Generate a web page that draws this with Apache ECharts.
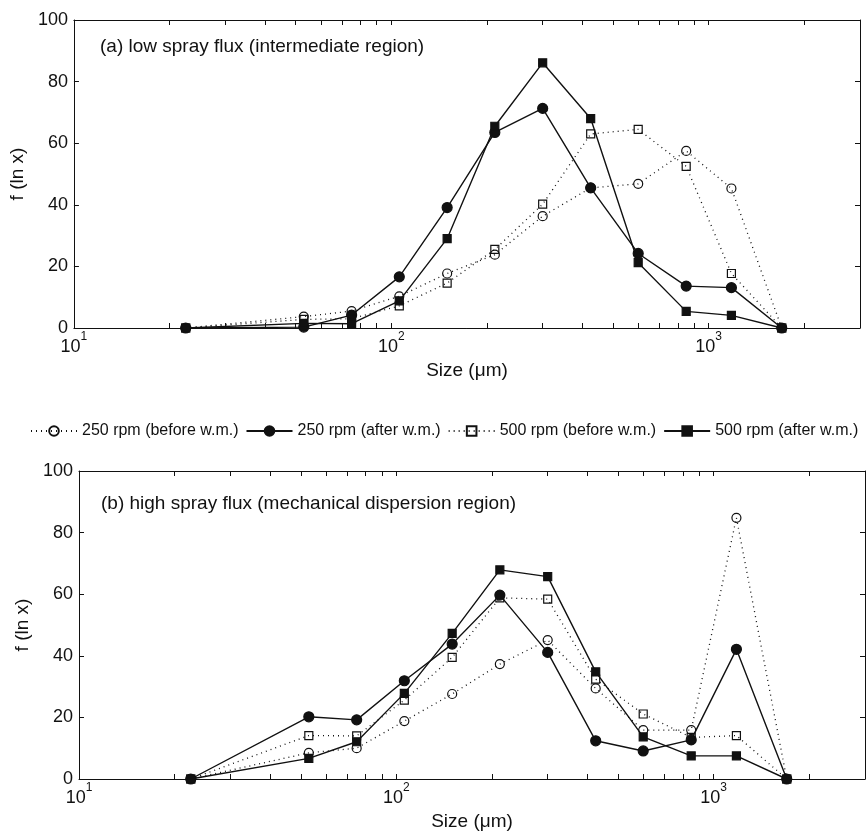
<!DOCTYPE html>
<html><head><meta charset="utf-8">
<script src="https://cdn.jsdelivr.net/npm/echarts@6/dist/echarts.min.js"></script>
<style>html,body{margin:0;padding:0;background:#fff}#c{width:866px;height:832px}</style>
</head><body><div id="c"></div><script>
// ---- data ----
const sizes = [22.5, 53, 75, 106, 150, 212, 300, 425, 600, 850, 1180, 1700];
// panel (a) low spray flux
const a250Before = [0, 3.7, 5.5, 10.3, 17.7, 23.8, 36.3, 45.5, 46.8, 57.5, 45.3, 0];
const a250After  = [0, 0.3, 4.2, 16.6, 39.1, 63.5, 71.3, 45.5, 24.2, 13.6, 13.1, 0];
const a500Before = [0, 2.8, 3.0, 7.2, 14.6, 25.5, 40.2, 63.0, 64.5, 52.5, 17.7, 0];
const a500After  = [0, 1.5, 1.4, 8.8, 29.0, 65.5, 86.1, 68.0, 21.2, 5.4, 4.1, 0];
// panel (b) high spray flux
const b250Before = [0, 8.5, 10.0, 18.8, 27.6, 37.3, 45.1, 29.4, 15.9, 15.9, 84.8, 0];
const b250After  = [0, 20.2, 19.2, 31.9, 43.8, 59.7, 41.1, 12.4, 9.1, 12.7, 42.1, 0];
const b500Before = [0, 14.1, 14.0, 25.6, 39.5, 58.8, 58.4, 32.4, 21.1, 13.5, 14.1, 0];
const b500After  = [0, 6.7, 12.1, 27.8, 47.3, 67.9, 65.7, 34.8, 13.7, 7.5, 7.5, 0];

const seriesNames = ['250 rpm (before w.m.)', '250 rpm (after w.m.)', '500 rpm (before w.m.)', '500 rpm (after w.m.)'];
const panelTitles = ['(a) low spray flux (intermediate region)', '(b) high spray flux (mechanical dispersion region)'];
const xMajorTicks = [10, 100, 1000];
const xMinorTicks = [20, 30, 40, 50, 60, 70, 80, 90, 200, 300, 400, 500, 600, 700, 800, 900, 2000];
const yTicks = [0, 20, 40, 60, 80, 100];
const xMin = 10, xMax = 3000;

// ---- styling ----
const FONT = "'Liberation Sans', Arial, Helvetica, sans-serif";
const INK = '#111';
const styles = [
  {symbol: 'circle', size: 9, fill: 'rgba(0,0,0,0)', type: [1, 4]},
  {symbol: 'circle', size: 10, fill: INK, type: 'solid'},
  {symbol: 'rect', size: 8, fill: 'rgba(0,0,0,0)', type: [1, 4]},
  {symbol: 'rect', size: 8, fill: INK, type: 'solid'}
];
const panels = [
  {data: [a250Before, a250After, a500Before, a500After], grid: {left: 73, right: 6, top: 20, height: 308}},
  {data: [b250Before, b250After, b500Before, b500After], grid: {left: 79, right: 1, top: 471, height: 308}}
];
const allXTicks = xMajorTicks.concat(xMinorTicks);

function supLabel(v) {
  const e = Math.round(Math.log10(v));
  if (Math.abs(Math.log10(v) - e) > 1e-6) return '';
  return '{b|10}{s|' + e + '}';
}

const grids = [], xAxes = [], yAxes = [], series = [], titles = [];
panels.forEach((p, pi) => {
  grids.push(p.grid);
  const baseX = {
    type: 'log', logBase: 10, min: xMin, max: xMax, gridIndex: pi,
    axisLine: {show: true, onZero: false, lineStyle: {color: INK, width: 1}},
    axisTick: {show: true, inside: true, length: 5, customValues: allXTicks, lineStyle: {color: INK, width: 1}},
    splitLine: {show: false}, minorTick: {show: false}
  };
  xAxes.push(Object.assign({}, baseX, {
    position: 'bottom',
    name: 'Size (\u03bcm)', nameLocation: 'middle', nameGap: 33,
    nameTextStyle: {fontFamily: FONT, fontSize: 19, color: INK},
    axisLabel: {
      show: true, customValues: xMajorTicks, margin: 3, formatter: supLabel,
      rich: {
        b: {fontFamily: FONT, fontSize: 18, color: INK, verticalAlign: 'bottom', lineHeight: 25},
        s: {fontFamily: FONT, fontSize: 12, color: INK, verticalAlign: 'top', lineHeight: 25}
      }
    }
  }));
  xAxes.push(Object.assign({}, baseX, {position: 'top', axisLabel: {show: false}}));
  const baseY = {
    type: 'value', min: 0, max: 100, interval: 20, gridIndex: pi,
    axisLine: {show: true, onZero: false, lineStyle: {color: INK, width: 1}},
    axisTick: {show: true, inside: true, length: 5, lineStyle: {color: INK, width: 1}},
    splitLine: {show: false}
  };
  yAxes.push(Object.assign({}, baseY, {
    position: 'left',
    name: 'f (ln x)', nameLocation: 'middle', nameGap: 41, nameRotate: 90,
    nameTextStyle: {fontFamily: FONT, fontSize: 19, color: INK},
    axisLabel: {show: true, margin: 6, fontFamily: FONT, fontSize: 18, color: INK,
      formatter: v => (yTicks.indexOf(v) >= 0 ? String(v) : '')}
  }));
  yAxes.push(Object.assign({}, baseY, {position: 'right', axisLabel: {show: false}}));

  p.data.forEach((vals, si) => {
    const st = styles[si];
    series.push({
      name: seriesNames[si], type: 'line',
      xAxisIndex: pi * 2, yAxisIndex: pi * 2,
      data: sizes.map((x, i) => [x, vals[i]]),
      symbol: st.symbol, symbolSize: st.size, showAllSymbol: true,
      lineStyle: {color: INK, width: st.type === 'solid' ? 1.4 : 1.3, type: st.type},
      itemStyle: {color: st.fill, borderColor: INK, borderWidth: 1.2},
      emphasis: {disabled: true}, animation: false, z: 2 + si
    });
  });
  titles.push({
    text: panelTitles[pi], left: pi === 0 ? 100 : 101, top: pi === 0 ? 37 : 494, padding: 0,
    textStyle: {fontFamily: FONT, fontSize: 19, fontWeight: 'normal', color: INK}
  });
});

const chart = echarts.init(document.getElementById('c'), null, {renderer: 'canvas'});
chart.setOption({
  backgroundColor: '#fff',
  animation: false,
  title: titles,
  legend: {
    data: seriesNames, left: 30, top: 423, width: 836, padding: 0, orient: 'horizontal',
    itemWidth: 46, itemHeight: 12, itemGap: 7,
    textStyle: {fontFamily: FONT, fontSize: 16, color: INK},
    inactiveColor: '#ccc', selectedMode: false
  },
  grid: grids, xAxis: xAxes, yAxis: yAxes, series: series
});
</script></body></html>
